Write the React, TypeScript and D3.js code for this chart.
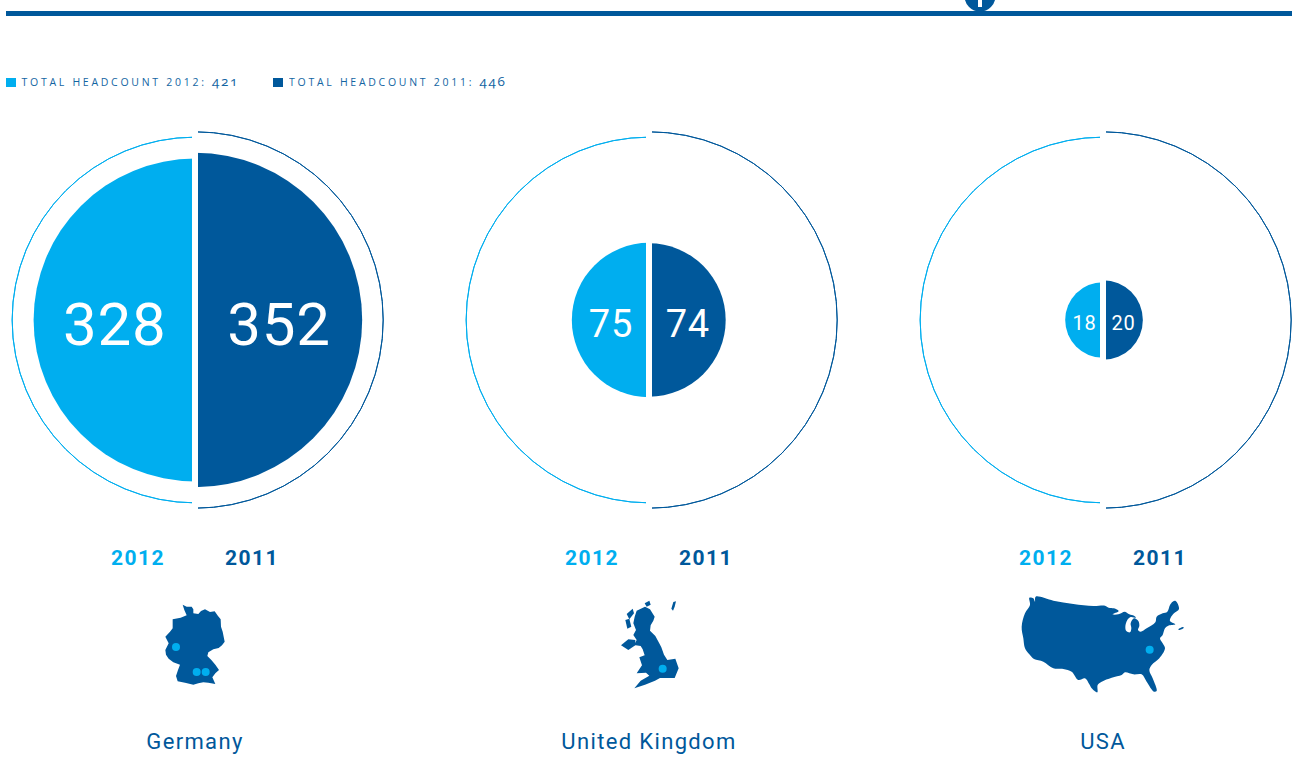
import React from "react";
import * as d3 from "d3";

const CYAN = "#00aeef";
const NAVY = "#00589b";
const W = 1292;
const H = 757;

const countries = ["Germany", "United Kingdom", "USA"];
const values2012 = [328, 75, 18];
const values2011 = [352, 74, 20];
const total2012 = 421;
const total2011 = 446;
const yearLabels = ["2012", "2011"];
const legendLabels = ["TOTAL HEADCOUNT 2012: ", "TOTAL HEADCOUNT 2011: "];
const labelSizes = [60, 38, 20];

type P = [number, number];
const germany: P[][] = [[
  [128,44],[140,50],[155,50],[160,58],[160,70],[175,72],[183,63],[195,58],[210,66],[224,64],[234,78],[242,88],[243,110],[248,125],[254,155],[246,166],[236,174],[220,178],[205,187],[202,198],[214,210],[226,224],[237,240],[226,250],[217,262],[226,282],[205,278],[190,277],[175,280],[160,284],[135,278],[113,274],[108,258],[114,240],[120,224],[100,217],[86,206],[78,194],[76,180],[86,160],[76,140],[90,125],[98,115],[98,88],[122,83],[140,76],[133,60],
]];
const germanyDots: P[] = [[108,171],[170,246],[197,246]];
const uk: P[][] = [
  [[110,62],[135,50],[150,58],[164,80],[160,92],[152,106],[150,122],[166,138],[177,158],[184,172],[192,194],[202,210],[226,206],[236,235],[224,264],[195,264],[180,264],[165,272],[135,284],[103,295],[122,272],[148,257],[138,248],[110,250],[126,226],[118,202],[134,196],[128,178],[122,168],[102,165],[110,150],[100,135],[108,120],[100,100],[104,80]],
  [[63,166],[85,148],[106,150],[106,166],[85,180]],
  [[80,72],[98,56],[102,70],[88,88]],
  [[76,90],[88,86],[94,110],[82,116]],
  [[134,40],[148,32],[152,44],[140,50]],
  [[214,56],[220,36],[228,34],[224,50],[219,62]],
];
const ukDots: P[] = [[188,236]];
const usa: P[][] = [
  [[58,38],[70,40],[75,50],[77,35],[130,47],[190,57],[250,63],[285,62],[296,68],[312,70],[326,78],[308,88],[325,88],[345,80],[358,88],[372,92],[378,98],[362,96],[352,105],[346,125],[349,138],[360,142],[364,130],[362,115],[372,100],[385,108],[388,122],[384,135],[392,140],[410,130],[436,112],[440,95],[458,85],[472,80],[480,60],[488,50],[497,48],[507,72],[492,85],[482,98],[480,108],[496,118],[475,122],[465,130],[458,150],[450,160],[458,175],[465,190],[448,220],[425,240],[418,255],[428,280],[440,318],[432,320],[410,290],[395,268],[370,268],[345,262],[335,270],[305,278],[275,290],[263,300],[262,322],[245,310],[238,298],[225,280],[205,285],[185,260],[160,252],[130,250],[100,230],[72,222],[58,208],[45,190],[40,160],[35,125],[45,85],[60,60]],
  [[505,133],[520,126],[521,129],[507,135]],
];
const usaDots: P[] = [[419,194]];

const jagged = d3.line<P>().curve(d3.curveLinearClosed);
const smooth = d3.line<P>().curve(d3.curveCatmullRomClosed.alpha(0.5));

const maps = [
  { shapes: germany, dots: germanyDots, x: 140, y: 590, line: jagged },
  { shapes: uk, dots: ukDots, x: 600, y: 590, line: jagged },
  { shapes: usa, dots: usaDots, x: 1010, y: 585, line: smooth },
];

const cxScale = d3.scalePoint<string>().domain(countries).range([195, 1103]);
const rScale = d3.scaleSqrt().domain([0, total2011]).range([0, 188.2]);
const CY = 320;

const fontTech = "Roboto, sans-serif";
const fontLegend = "'Open Sans', sans-serif";

const right = (r: number) => d3.arc()({ innerRadius: 0, outerRadius: r, startAngle: 0, endAngle: Math.PI }) as string;
const left = (r: number) => d3.arc()({ innerRadius: 0, outerRadius: r, startAngle: Math.PI, endAngle: 2 * Math.PI }) as string;
const ringR = (r: number) => d3.arc()({ innerRadius: r, outerRadius: r, startAngle: 0, endAngle: Math.PI }) as string;
const ringL = (r: number) => d3.arc()({ innerRadius: r, outerRadius: r, startAngle: Math.PI, endAngle: 2 * Math.PI }) as string;

function Legend() {
  const items = [
    { x: 6, tx: 21.5, color: CYAN, label: legendLabels[0], total: total2012 },
    { x: 273, tx: 289, color: NAVY, label: legendLabels[1], total: total2011 },
  ];
  return (
    <g>
      {items.map((d) => (
        <g key={d.label}>
          <rect x={d.x} y={78} width={10} height={9} fill={d.color} />
          <text x={d.tx} y={86} fontFamily={fontLegend} fontSize={10.5} letterSpacing={2.72} fill={NAVY} opacity={0.92}>
            {d.label}
            <tspan fontSize={13.5} letterSpacing={1.6} style={{ fontFeatureSettings: "'onum'" }}>{d.total}</tspan>
          </text>
        </g>
      ))}
    </g>
  );
}

export default function App() {
  return (
    <svg width={W} height={H} viewBox={`0 0 ${W} ${H}`} style={{ position: "absolute", left: 0, top: 0, background: "#fff", display: "block" }}>
      <rect x={6} y={11} width={W - 6} height={5} fill={NAVY} />
      <circle cx={980} cy={-4} r={15.5} fill={NAVY} />
      <rect x={978} y={0} width={4} height={7} fill="#fff" />
      <Legend />
      {countries.map((c, i) => {
        const cx = cxScale(c) as number;
        const r12 = rScale(values2012[i]);
        const r11 = rScale(values2011[i]);
        const m = maps[i];
        return (
          <g key={c}>
            <g transform={`translate(${cx},${CY})`}>
              <path d={left(r12)} fill={CYAN} />
              <path d={right(r11)} fill={NAVY} />
              <path d={ringL(rScale(total2012))} fill="none" stroke={CYAN} strokeWidth={1} />
              <path d={ringR(rScale(total2011))} fill="none" stroke={NAVY} strokeWidth={1} />
              <rect x={-3} y={-200} width={6} height={400} fill="#fff" />
              <text x={-r12 / 2 + 0.5} y={labelSizes[i] * 0.36 + 3} textAnchor="middle" fill="#fff" fontFamily={fontTech} fontWeight={400} fontSize={labelSizes[i]} letterSpacing={0.8}>{values2012[i]}</text>
              <text x={r11 / 2 + 0.5} y={labelSizes[i] * 0.36 + 3} textAnchor="middle" fill="#fff" fontFamily={fontTech} fontWeight={400} fontSize={labelSizes[i]} letterSpacing={0.8}>{values2011[i]}</text>
            </g>
            <text x={cx - 57} y={565} textAnchor="middle" fill={CYAN} fontFamily={fontTech} fontWeight={700} fontSize={21} letterSpacing={1.4}>{yearLabels[0]}</text>
            <text x={cx + 57} y={565} textAnchor="middle" fill={NAVY} fontFamily={fontTech} fontWeight={700} fontSize={21} letterSpacing={1.4}>{yearLabels[1]}</text>
            <g transform={`translate(${m.x},${m.y}) scale(${1 / 3})`}>
              {m.shapes.map((s, k) => <path key={k} d={m.line(s) as string} fill={NAVY} />)}
              {m.dots.map((d, k) => <circle key={k} cx={d[0]} cy={d[1]} r={12} fill={CYAN} />)}
            </g>
            <text x={cx} y={749} textAnchor="middle" fill={NAVY} fontFamily={fontTech} fontWeight={400} fontSize={22} letterSpacing={1.35}>{c}</text>
          </g>
        );
      })}
    </svg>
  );
}
